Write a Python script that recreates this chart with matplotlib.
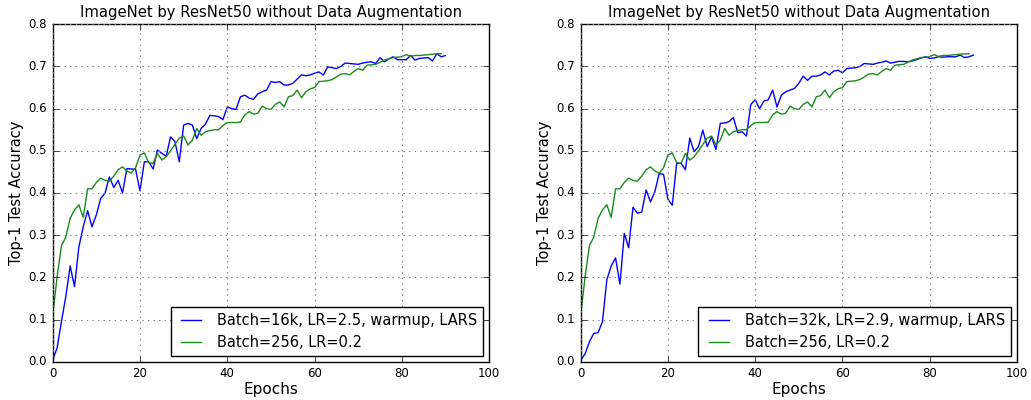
"""ImageNet / ResNet50 without data augmentation: large batch vs baseline"""
import matplotlib
matplotlib.use("Agg")
import matplotlib.pyplot as plt
import numpy as np

# baseline, batch 256 (same curve in both panels)
acc_256 = [0.11, 0.20, 0.275, 0.295, 0.34, 0.36, 0.372, 0.342, 0.41, 0.41,
           0.425, 0.435, 0.43, 0.428, 0.44, 0.455, 0.462, 0.452, 0.447, 0.46,
           0.49, 0.495, 0.472, 0.47, 0.494, 0.478, 0.486, 0.50, 0.515, 0.53,
           0.535, 0.514, 0.525, 0.553, 0.537, 0.545, 0.548, 0.55, 0.55, 0.56,
           0.567, 0.567, 0.567, 0.568, 0.585, 0.593, 0.587, 0.589, 0.606, 0.60,
           0.598, 0.61, 0.616, 0.604, 0.628, 0.631, 0.644, 0.626, 0.64, 0.647,
           0.65, 0.664, 0.665, 0.666, 0.669, 0.675, 0.682, 0.683, 0.68, 0.688,
           0.695, 0.691, 0.703, 0.704, 0.705, 0.71, 0.715, 0.718, 0.721, 0.722,
           0.723, 0.728, 0.724, 0.726, 0.726, 0.727, 0.728, 0.729, 0.73, 0.73]

acc_16k = [0.004, 0.032, 0.095, 0.154, 0.227, 0.178, 0.272, 0.32, 0.358, 0.32,
           0.348, 0.387, 0.40, 0.438, 0.413, 0.43, 0.40, 0.458, 0.457, 0.456,
           0.405, 0.474, 0.474, 0.457, 0.502, 0.494, 0.487, 0.533, 0.522, 0.474,
           0.561, 0.565, 0.561, 0.529, 0.553, 0.563, 0.584, 0.583, 0.581, 0.574,
           0.604, 0.60, 0.598, 0.628, 0.632, 0.625, 0.622, 0.635, 0.64, 0.644,
           0.664, 0.662, 0.664, 0.656, 0.656, 0.66, 0.67, 0.68, 0.678, 0.68,
           0.684, 0.687, 0.68, 0.699, 0.697, 0.695, 0.70, 0.708, 0.707, 0.706,
           0.705, 0.708, 0.71, 0.711, 0.707, 0.721, 0.711, 0.718, 0.723, 0.716,
           0.716, 0.716, 0.726, 0.715, 0.719, 0.72, 0.721, 0.713, 0.73, 0.723,
           0.726]

acc_32k = [0.004, 0.018, 0.047, 0.067, 0.069, 0.095, 0.194, 0.227, 0.246, 0.184,
           0.304, 0.27, 0.366, 0.352, 0.355, 0.407, 0.379, 0.403, 0.446, 0.444,
           0.385, 0.371, 0.47, 0.471, 0.455, 0.53, 0.498, 0.51, 0.549, 0.51,
           0.533, 0.503, 0.565, 0.566, 0.569, 0.579, 0.543, 0.545, 0.535, 0.61,
           0.621, 0.60, 0.618, 0.621, 0.644, 0.604, 0.632, 0.64, 0.644, 0.648,
           0.66, 0.677, 0.667, 0.677, 0.677, 0.68, 0.687, 0.68, 0.689, 0.691,
           0.685, 0.695, 0.696, 0.697, 0.70, 0.707, 0.706, 0.705, 0.708, 0.71,
           0.713, 0.708, 0.71, 0.712, 0.712, 0.711, 0.713, 0.716, 0.72, 0.723,
           0.719, 0.72, 0.723, 0.722, 0.723, 0.723, 0.723, 0.727, 0.721, 0.723,
           0.727]

labels_16k = ["Batch=16k, LR=2.5, warmup, LARS", "Batch=256, LR=0.2"]
labels_32k = ["Batch=32k, LR=2.9, warmup, LARS", "Batch=256, LR=0.2"]
title = "ImageNet by ResNet50 without Data Augmentation"

plt.style.use("classic")
plt.rcParams["font.family"] = "DejaVu Sans"

fig = plt.figure(figsize=(10.31, 4.0), dpi=100, facecolor="white")
ax1 = fig.add_axes([0.0511, 0.0958, 0.4234, 0.8435])
ax2 = fig.add_axes([0.5632, 0.0958, 0.4232, 0.8435])

for ax, big, labs in [(ax1, acc_16k, labels_16k), (ax2, acc_32k, labels_32k)]:
    ax.plot(np.arange(len(big)), big, color="b", lw=1.0, label=labs[0])
    ax.plot(np.arange(len(acc_256)), acc_256, color="#1a8c1a", lw=1.0, label=labs[1])
    ax.set_xlim(0, 100)
    ax.set_ylim(0, 0.8)
    ax.set_xticks(np.arange(0, 101, 20))
    ax.set_yticks(np.arange(0, 0.81, 0.1))
    ax.tick_params(labelsize=8.5)
    ax.grid(True, linestyle=":", color="0.5", lw=0.8)
    ax.set_title(title, fontsize=10.6, pad=5)
    ax.set_xlabel("Epochs", fontsize=11, labelpad=1)
    ax.set_ylabel("Top-1 Test Accuracy", fontsize=10.5, labelpad=3)
    ax.legend(loc="lower right", fontsize=10.5, frameon=True, fancybox=False,
              borderaxespad=0.4)

fig.savefig("out.png", dpi=100, facecolor="white")
plt.close()
